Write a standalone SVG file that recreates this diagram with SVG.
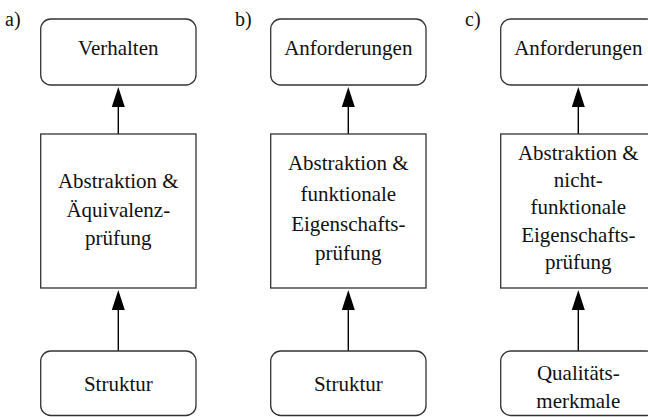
<svg xmlns="http://www.w3.org/2000/svg" width="648" height="417" viewBox="0 0 648 417">
  <style>
    .lbl { text-anchor: middle; }
    .term { fill: #fff; stroke: #333; stroke-width: 1.3; }
    .proc { fill: #fff; stroke: #333; stroke-width: 1.3; }
    .edge { stroke: #000; stroke-width: 1.4; fill: none; }
  </style>
  <defs>
    <!-- upward filled arrowhead, tip at origin -->
    <path id="tip" d="M0 0 L6.5 20 L-6.5 20 Z" fill="#000"/>
  </defs>

  <rect width="648" height="417" fill="#fff"/>

  <!-- panel labels -->
  <text x="5" y="26" font-family="Liberation Serif" font-size="20" fill="#111">a)</text>
  <text x="235" y="26" font-family="Liberation Serif" font-size="20" fill="#111">b)</text>
  <text x="465" y="26" font-family="Liberation Serif" font-size="20" fill="#111">c)</text>

  <!-- connectors -->
  <g id="connectors">
    <line class="edge" x1="118.3" y1="134" x2="118.3" y2="100"/>
    <line class="edge" x1="118.3" y1="351" x2="118.3" y2="303"/>
    <line class="edge" x1="348.3" y1="134" x2="348.3" y2="100"/>
    <line class="edge" x1="348.3" y1="351" x2="348.3" y2="303"/>
    <line class="edge" x1="578.3" y1="134" x2="578.3" y2="100"/>
    <line class="edge" x1="578.3" y1="351" x2="578.3" y2="303"/>
    <use href="#tip" x="118.3" y="87"/>
    <use href="#tip" x="118.3" y="290"/>
    <use href="#tip" x="348.3" y="87"/>
    <use href="#tip" x="348.3" y="290"/>
    <use href="#tip" x="578.3" y="87"/>
    <use href="#tip" x="578.3" y="290"/>
  </g>

  <!-- panel a -->
  <g id="a-verhalten">
    <rect class="term" x="40.7" y="19" width="155.3" height="66" rx="10"/>
    <text class="lbl" x="118.3" y="55" font-family="Liberation Serif" font-size="21" fill="#111">Verhalten</text>
  </g>
  <g id="a-pruefung">
    <rect class="proc" x="40.7" y="134" width="155.3" height="154"/>
    <text class="lbl" x="118.3" y="188" font-family="Liberation Serif" font-size="21" fill="#111">Abstraktion &amp;</text>
    <text class="lbl" x="118.3" y="217" font-family="Liberation Serif" font-size="21" fill="#111">Äquivalenz-</text>
    <text class="lbl" x="118.3" y="245" font-family="Liberation Serif" font-size="21" fill="#111">prüfung</text>
  </g>
  <g id="a-struktur">
    <rect class="term" x="40.7" y="351" width="155.3" height="64.5" rx="10"/>
    <text class="lbl" x="118.3" y="391" font-family="Liberation Serif" font-size="21" fill="#111">Struktur</text>
  </g>

  <!-- panel b -->
  <g id="b-anforderungen">
    <rect class="term" x="270.7" y="19" width="155.3" height="66" rx="10"/>
    <text class="lbl" x="348.3" y="55" font-family="Liberation Serif" font-size="21" fill="#111">Anforderungen</text>
  </g>
  <g id="b-pruefung">
    <rect class="proc" x="270.7" y="134" width="155.3" height="154"/>
    <text class="lbl" x="348.3" y="170" font-family="Liberation Serif" font-size="21" fill="#111">Abstraktion &amp;</text>
    <text class="lbl" x="348.3" y="201" font-family="Liberation Serif" font-size="21" fill="#111">funktionale</text>
    <text class="lbl" x="348.3" y="231" font-family="Liberation Serif" font-size="21" fill="#111">Eigenschafts-</text>
    <text class="lbl" x="348.3" y="260" font-family="Liberation Serif" font-size="21" fill="#111">prüfung</text>
  </g>
  <g id="b-struktur">
    <rect class="term" x="270.7" y="351" width="155.3" height="64.5" rx="10"/>
    <text class="lbl" x="348.3" y="391" font-family="Liberation Serif" font-size="21" fill="#111">Struktur</text>
  </g>

  <!-- panel c -->
  <g id="c-anforderungen">
    <rect class="term" x="500.7" y="19" width="155.3" height="66" rx="10"/>
    <text class="lbl" x="578.3" y="55" font-family="Liberation Serif" font-size="21" fill="#111">Anforderungen</text>
  </g>
  <g id="c-pruefung">
    <rect class="proc" x="500.7" y="134" width="155.3" height="154"/>
    <text class="lbl" x="578.3" y="160" font-family="Liberation Serif" font-size="21" fill="#111">Abstraktion &amp;</text>
    <text class="lbl" x="578.3" y="187" font-family="Liberation Serif" font-size="21" fill="#111">nicht-</text>
    <text class="lbl" x="578.3" y="214" font-family="Liberation Serif" font-size="21" fill="#111">funktionale</text>
    <text class="lbl" x="578.3" y="242" font-family="Liberation Serif" font-size="21" fill="#111">Eigenschafts-</text>
    <text class="lbl" x="578.3" y="269" font-family="Liberation Serif" font-size="21" fill="#111">prüfung</text>
  </g>
  <g id="c-qualitaet">
    <rect class="term" x="500.7" y="351" width="155.3" height="64.5" rx="10"/>
    <text class="lbl" x="578.3" y="380" font-family="Liberation Serif" font-size="21" fill="#111">Qualitäts-</text>
    <text class="lbl" x="578.3" y="408" font-family="Liberation Serif" font-size="21" fill="#111">merkmale</text>
  </g>
</svg>
